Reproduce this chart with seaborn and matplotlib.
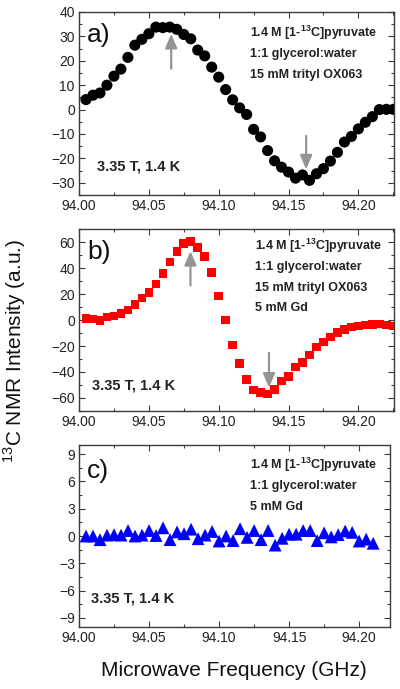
import matplotlib
matplotlib.use("Agg")
import matplotlib.pyplot as plt
import seaborn as sns
import pandas as pd
from matplotlib.ticker import MultipleLocator

# microwave frequency (GHz) for panels a) and b)
freq_ab = [94.005, 94.010, 94.015, 94.020, 94.025, 94.030, 94.035, 94.040, 94.045,
           94.050, 94.055, 94.060, 94.065, 94.070, 94.075, 94.080, 94.085, 94.090,
           94.095, 94.100, 94.105, 94.110, 94.115, 94.120, 94.125, 94.130, 94.135,
           94.140, 94.145, 94.150, 94.155, 94.160, 94.165, 94.170, 94.175, 94.180,
           94.185, 94.190, 94.195, 94.200, 94.205, 94.210, 94.215, 94.220, 94.225]
# a) trityl only
sig_a = [4.1, 5.9, 6.8, 10.0, 13.7, 16.6, 21.4, 26.4, 28.8, 31.1, 33.8, 33.6, 33.8,
         32.9, 30.8, 29.0, 24.4, 22.0, 17.4, 13.3, 8.2, 4.0, 0.7, -2.0, -8.1, -11.2,
         -16.8, -21.0, -23.6, -25.6, -28.1, -26.8, -29.0, -26.3, -24.2, -21.1, -17.5,
         -13.3, -11.0, -7.9, -5.2, -2.9, 0.0, 0.1, 0.1]
# b) trityl + Gd
sig_b = [1.2, 0.9, -0.4, 2.4, 3.2, 5.0, 7.8, 12.0, 16.8, 21.0, 27.6, 35.6, 44.6,
         52.5, 58.7, 60.5, 55.9, 48.7, 36.4, 18.4, -0.1, -19.1, -33.5, -45.9, -53.8,
         -55.9, -56.9, -53.6, -46.9, -43.3, -36.1, -32.5, -26.8, -20.9, -16.8, -13.0,
         -9.6, -7.3, -5.5, -4.5, -3.7, -3.5, -3.2, -3.7, -4.5]
# c) Gd only
freq_c = [94.005, 94.010, 94.015, 94.020, 94.025, 94.030, 94.035, 94.040, 94.045,
          94.050, 94.055, 94.060, 94.065, 94.070, 94.075, 94.080, 94.085, 94.090,
          94.095, 94.100, 94.105, 94.110, 94.115, 94.120, 94.125, 94.130, 94.135,
          94.140, 94.145, 94.150, 94.155, 94.160, 94.165, 94.170, 94.175, 94.180,
          94.185, 94.190, 94.195, 94.200, 94.205, 94.210]
sig_c = [0.0, 0.0, -0.4, 0.1, 0.15, 0.1, 0.6, 0.0, 0.1, 0.6, 0.05, 0.9, -0.4, 0.45,
         0.25, 0.75, -0.3, 0.1, 0.5, -0.55, 0.0, -0.5, 0.8, -0.15, 0.6, -0.4, 0.6,
         -1.0, -0.25, 0.2, 0.2, 0.6, 0.6, -0.5, 0.35, -0.1, 0.15, 0.55, 0.4, -0.55,
         -0.35, -0.8]

# arrows: (freq, tail, head)
arrows_a = [(94.066, 16.8, 31.0), (94.1626, -10.8, -24.5)]
arrows_b = [(94.0798, 26.6, 53.0), (94.136, -25.3, -52.0)]

labels_sample = {
    "a": ["1.4 M [1-$\\mathbf{^{13}}$C]pyruvate", "1:1 glycerol:water", "15 mM trityl OX063"],
    "b": ["1.4 M [1-$\\mathbf{^{13}}$C]pyruvate", "1:1 glycerol:water", "15 mM trityl OX063", "5 mM Gd"],
    "c": ["1.4 M [1-$\\mathbf{^{13}}$C]pyruvate", "1:1 glycerol:water", "5 mM Gd"],
}

sns.set_theme(style="ticks")
plt.rcParams['font.family'] = ['Liberation Sans', 'DejaVu Sans']
plt.rcParams['mathtext.fontset'] = 'custom'
plt.rcParams['mathtext.rm'] = 'Liberation Sans'
plt.rcParams['mathtext.bf'] = 'Liberation Sans:bold'
frame_col = '#3a3a3a'

fig = plt.figure(figsize=(4.0, 6.89), dpi=100)
ax_a = fig.add_axes([0.1975, 0.717, 0.7875, 0.2656])
ax_b = fig.add_axes([0.1975, 0.4035, 0.7875, 0.2641])
ax_c = fig.add_axes([0.1975, 0.090, 0.7775, 0.2641])

df_a = pd.DataFrame({"f": freq_ab, "s": sig_a})
df_b = pd.DataFrame({"f": freq_ab, "s": sig_b})
df_c = pd.DataFrame({"f": freq_c, "s": sig_c})

sns.scatterplot(data=df_a, x="f", y="s", ax=ax_a, marker="o", s=64, color="black",
                edgecolor="none", zorder=3)
sns.scatterplot(data=df_b, x="f", y="s", ax=ax_b, marker="s", s=38, color="#ff0000",
                edgecolor="none", zorder=3)
sns.scatterplot(data=df_c, x="f", y="s", ax=ax_c, marker="^", s=85, color="#0000ff",
                edgecolor="none", zorder=3)


def style_axis(ax, ylim, ymaj, ymin, xmax):
    ax.set_xlim(94.0, xmax)
    ax.set_ylim(*ylim)
    ax.xaxis.set_major_locator(MultipleLocator(0.05))
    ax.xaxis.set_minor_locator(MultipleLocator(0.025))
    ax.yaxis.set_major_locator(MultipleLocator(ymaj))
    ax.yaxis.set_minor_locator(MultipleLocator(ymin))
    ax.xaxis.set_major_formatter(matplotlib.ticker.FormatStrFormatter('%.2f'))
    ax.tick_params(which='both', direction='in', top=True, right=True,
                   color=frame_col, labelsize=10, labelcolor='#222222', width=0.8)
    ax.tick_params(which='major', length=4, pad=3)
    ax.tick_params(which='minor', length=2.5)
    ax.tick_params(axis='y', which='both', labelright=False)
    for sp in ax.spines.values():
        sp.set_color(frame_col)
        sp.set_linewidth(1.0)
    ax.set_xlabel("")
    ax.set_ylabel("")


style_axis(ax_a, (-35, 40), 10, 5, 94.2255)
style_axis(ax_b, (-70, 70), 20, 10, 94.2255)
style_axis(ax_c, (-10, 10), 3, 1.5, 94.222)
ax_c.set_yticks([-9, -6, -3, 0, 3, 6, 9])

for ax, arrows in [(ax_a, arrows_a), (ax_b, arrows_b)]:
    for f, y0, y1 in arrows:
        ax.annotate("", xy=(f, y1), xytext=(f, y0),
                    arrowprops=dict(arrowstyle="-|>,head_length=0.7,head_width=0.3",
                                    color="#949494", lw=1.6, shrinkA=0, shrinkB=0),
                    zorder=4)

# panel letters
for ax, letter, y in [(ax_a, "a)", 0.874), (ax_b, "b)", 0.875), (ax_c, "c)", 0.86)]:
    ax.text(0.025, y, letter, transform=ax.transAxes, fontsize=19, ha='left', va='center',
            color='#111111')

# sample descriptions
text_pos = {"a": (ax_a, 0.543, [0.884, 0.769, 0.656]),
            "b": (ax_b, 0.559, [0.907, 0.793, 0.674, 0.564]),
            "c": (ax_c, 0.55, [0.89, 0.775, 0.661])}
for key, (ax, x, ys) in text_pos.items():
    for line, y in zip(labels_sample[key], ys):
        ax.text(x, y, line, transform=ax.transAxes, fontsize=9, fontweight='bold',
                ha='left', va='center', color='#222222')

for ax, x, y in [(ax_a, 0.056, 0.155), (ax_b, 0.04, 0.139), (ax_c, 0.04, 0.158)]:
    ax.text(x, y, "3.35 T, 1.4 K", transform=ax.transAxes, fontsize=10.5,
            fontweight='bold', ha='left', va='center', color='#222222')

fig.text(0.036, 0.49, "$^{13}$C NMR Intensity (a.u.)", rotation=90, fontsize=15,
         ha='center', va='center', color='#111111')
fig.text(0.585, 0.027, "Microwave Frequency (GHz)", fontsize=15, ha='center',
         va='center', color='#111111')

fig.savefig("out.png", dpi=100)
